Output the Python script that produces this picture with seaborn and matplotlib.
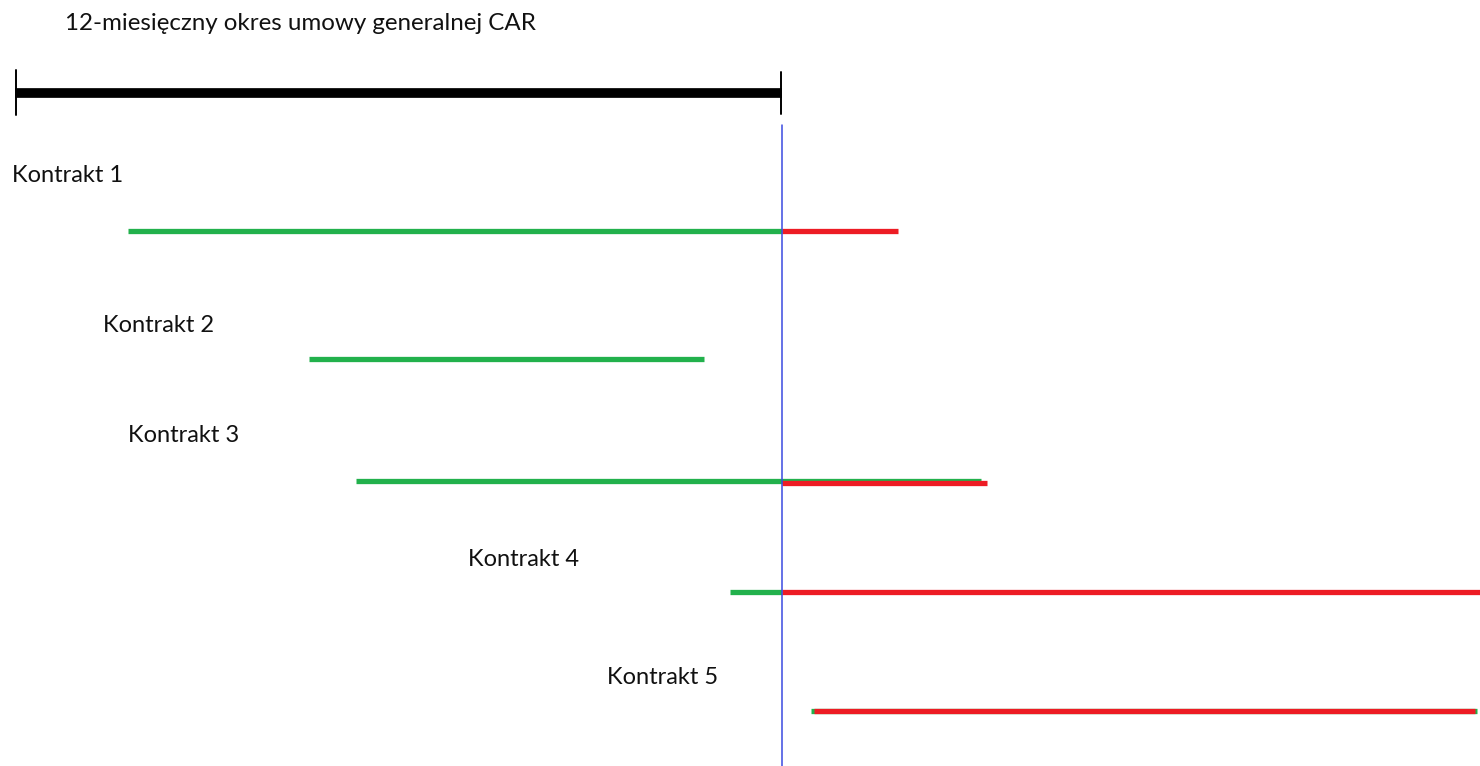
import seaborn as sns
import pandas as pd
import matplotlib
import matplotlib.pyplot as plt

sns.set_style("white")
plt.rcParams["font.family"] = ["Lato", "DejaVu Sans"]

# canvas units are pixels of the original drawing (x right, y down)
title = "12-miesięczny okres umowy generalnej CAR"
period_start = 15
period_end = 782

contracts = ["Kontrakt 1", "Kontrakt 2", "Kontrakt 3", "Kontrakt 4", "Kontrakt 5"]
label_x = [12, 103, 128, 468, 607]
label_y = [176, 325, 436, 560, 678]
line_y = [231, 359, 481, 592, 711]
green_start = [128, 309, 356, 730, 811]
green_end = [782, 704, 981, 782, 1477]
red_start = [782, None, 782, 782, 814]
red_end = [898, None, 987, 1480, 1475]
red_offset = [0, 0, 2, 0, 0]

GREEN = "#22b14c"
RED = "#ed1c24"
BLUE = "#3a4ae0"

rows = []
for i, name in enumerate(contracts):
    rows.append(dict(seg=f"{name}-g", kolor="green", x=green_start[i], y=line_y[i]))
    rows.append(dict(seg=f"{name}-g", kolor="green", x=green_end[i], y=line_y[i]))
    if red_start[i] is not None:
        yr = line_y[i] + red_offset[i]
        rows.append(dict(seg=f"{name}-r", kolor="red", x=red_start[i], y=yr))
        rows.append(dict(seg=f"{name}-r", kolor="red", x=red_end[i], y=yr))
df = pd.DataFrame(rows)

fig = plt.figure(figsize=(14.8, 7.66), dpi=100)
ax = fig.add_axes([0, 0, 1, 1])

# contract segments
sns.lineplot(
    data=df, x="x", y="y", hue="kolor", units="seg", estimator=None,
    hue_order=["green", "red"], palette={"green": GREEN, "red": RED},
    linewidth=3.8, legend=False, sort=False, ax=ax,
    solid_capstyle="butt",
)

# 12-month period bar with end ticks
ax.plot([period_start, period_end], [93, 93], color="black", lw=7,
        solid_capstyle="butt")
ax.plot([16, 16], [70, 115], color="black", lw=1.4)
ax.plot([781, 781], [72, 114], color="black", lw=1.4)

# end of period marker
ax.plot([782, 782], [125, 766], color=BLUE, lw=1.1)

ax.text(65, 23, title, fontsize=17.4, va="center", ha="left", color="#111111")
for name, lx, ly in zip(contracts, label_x, label_y):
    ax.text(lx, ly, name, fontsize=17, va="center", ha="left", color="#111111")

ax.set_xlim(0, 1480)
ax.set_ylim(766, 0)
ax.axis("off")

fig.savefig("out.png", dpi=100)
